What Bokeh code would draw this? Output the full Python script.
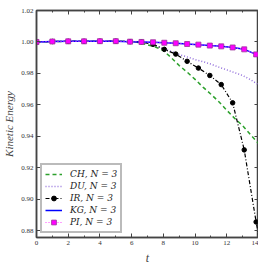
from bokeh.plotting import figure
from bokeh.models import (LinearAxis, Range1d, Legend, LegendItem, FixedTicker,
                          NumeralTickFormatter, CustomJSTickFormatter)
from bokeh.embed import file_html
from bokeh.resources import INLINE

# marker times (adaptive output steps) and values
t_markers = [0, 1, 2, 3, 4, 5, 5.9, 6.62, 7.35, 8.06, 8.78, 9.5, 10.21, 10.93, 11.65, 12.37, 13.1, 13.85]
pi_values = [1.0000, 1.0003, 1.0004, 1.0004, 1.0005, 1.0005, 1.0002, 1.0000, 0.9998, 0.9995, 0.9992,
             0.9987, 0.9983, 0.9977, 0.9972, 0.9965, 0.9953, 0.9921]
t_kg = t_markers + [14]
kg_values = pi_values + [0.9905]
ir_t = t_markers + [14]
ir_values = [1.0000, 1.0003, 1.0004, 1.0004, 1.0005, 1.0005, 1.0002, 1.0000, 0.9985, 0.9953, 0.9923,
             0.9877, 0.9834, 0.9787, 0.9729, 0.9613, 0.9314, 0.8856, 0.8775]
ir_marker_values = ir_values[:len(t_markers)]

t_curve = [0, 1, 2, 3, 4, 5, 6, 6.5, 7, 7.5, 8, 8.5, 9, 9.5, 10, 10.5, 11, 11.5, 12, 12.5, 13, 13.5, 14]
ch_values = [1.0000, 1.0003, 1.0004, 1.0004, 1.0005, 1.0005, 1.0003, 0.9995, 0.9982, 0.9968, 0.9945,
             0.9900, 0.9850, 0.9808, 0.9762, 0.9713, 0.9668, 0.9620, 0.9566, 0.9514, 0.9468, 0.9410, 0.9355]
du_values = [1.0000, 1.0003, 1.0004, 1.0004, 1.0005, 1.0005, 1.0003, 1.0001, 0.9995, 0.9978, 0.9957,
             0.9940, 0.9920, 0.9905, 0.9888, 0.9875, 0.9859, 0.9840, 0.9823, 0.9805, 0.9787, 0.9760, 0.9728]

labels = ["CH, N = 3", "DU, N = 3", "IR, N = 3", "KG, N = 3", "PI, N = 3"]
x_ticks = [0, 2, 4, 6, 8, 10, 12, 14]
y_ticks = [0.88, 0.90, 0.92, 0.94, 0.96, 0.98, 1.00, 1.02]

SERIF = "Liberation Serif"
AX = "#444444"

p = figure(width=258, height=267, output_backend="svg", toolbar_location=None,
           x_range=Range1d(0, 14), y_range=Range1d(0.8757, 1.02),
           min_border_left=30, min_border_right=0, min_border_top=10, min_border_bottom=26)
p.xgrid.visible = False
p.ygrid.visible = False
p.outline_line_color = AX
p.outline_line_width = 1.5
p.background_fill_color = "white"

r_ch = p.line(t_curve, ch_values, line_color="#2ca02c", line_width=1.5, line_dash="4 3")
r_du = p.line(t_curve, du_values, line_color="#9370db", line_width=1.5, line_dash="1 2")
r_ir_l = p.line(ir_t, ir_values, line_color="black", line_width=1.2, line_dash="4 2 1 2")
r_ir_m = p.scatter(t_markers, ir_marker_values, marker="circle", size=4.5, fill_color="black", line_color="black")
r_kg = p.line(t_kg, kg_values, line_color="#0000ff", line_width=1.5)
r_pi_l = p.line(t_markers, pi_values, line_color="#ff44ff", line_width=1.2, line_dash="1 2")
r_pi_m = p.scatter(t_markers, pi_values, marker="square", size=5, fill_color="#ff00ff", line_color="#993399", line_width=0.8)

def style_axis(ax, show_labels=True):
    ax.axis_line_color = AX
    ax.axis_line_width = 1.5
    ax.major_tick_in = 4
    ax.major_tick_out = 0
    ax.minor_tick_in = 2
    ax.minor_tick_out = 0
    ax.major_tick_line_color = AX
    ax.minor_tick_line_color = AX
    ax.major_label_text_font = SERIF
    ax.major_label_text_font_size = "7px"
    ax.major_label_text_color = "#333333"
    ax.major_label_standoff = 3 if show_labels else 0
    if not show_labels:
        ax.formatter = CustomJSTickFormatter(code="return '';")

xa = p.xaxis[0]
style_axis(xa)
xa.ticker = FixedTicker(ticks=x_ticks, minor_ticks=list(range(0, 15)))
xa.axis_label = "t"
xa.axis_label_text_font = SERIF
xa.axis_label_text_font_style = "italic"
xa.axis_label_text_font_size = "12px"
xa.axis_label_standoff = 3

ya = p.yaxis[0]
style_axis(ya)
ya.ticker = FixedTicker(ticks=y_ticks)
ya.formatter = NumeralTickFormatter(format="0.00")
ya.minor_tick_line_color = None
ya.axis_label = "Kinetic Energy"
ya.axis_label_text_font = SERIF
ya.axis_label_text_font_style = "italic"
ya.axis_label_text_font_size = "11px"
ya.axis_label_standoff = 3

top = LinearAxis(ticker=FixedTicker(ticks=x_ticks, minor_ticks=list(range(0, 15))))
style_axis(top, False)
p.add_layout(top, "above")
right = LinearAxis(ticker=FixedTicker(ticks=y_ticks))
style_axis(right, False)
right.minor_tick_line_color = None
p.add_layout(right, "right")

legend = Legend(items=[
    LegendItem(label=labels[0], renderers=[r_ch]),
    LegendItem(label=labels[1], renderers=[r_du]),
    LegendItem(label=labels[2], renderers=[r_ir_l, r_ir_m]),
    LegendItem(label=labels[3], renderers=[r_kg]),
    LegendItem(label=labels[4], renderers=[r_pi_l, r_pi_m]),
], location="bottom_left")
legend.margin = 4
legend.padding = 3
legend.spacing = 0
legend.glyph_width = 17
legend.glyph_height = 12
legend.label_height = 12
legend.label_width = 0
legend.label_standoff = 8
legend.label_text_font = "DejaVu Serif"
legend.label_text_font_style = "italic"
legend.label_text_font_size = "9px"
legend.label_text_color = "#222222"
legend.border_line_color = "#777777"
legend.border_line_width = 2
legend.background_fill_color = "white"
legend.background_fill_alpha = 1.0
p.add_layout(legend, "center")

open("out.html", "w").write(file_html(p, INLINE))
